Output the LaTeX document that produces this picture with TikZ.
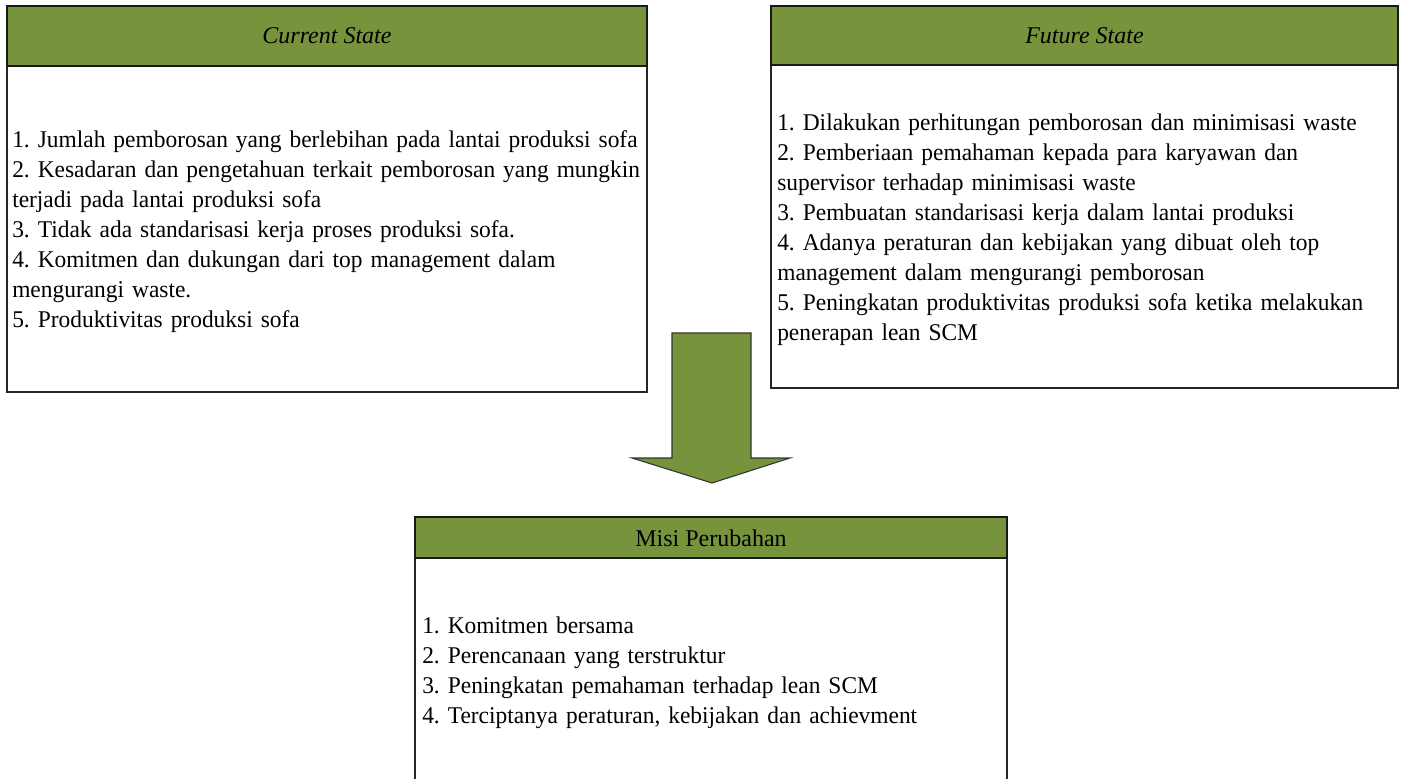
\documentclass[tikz,border=0pt]{standalone}
\usepackage{fontspec}
\setmainfont{Liberation Serif}
\newfontfamily\bodyfont{Liberation Serif}[FakeStretch=0.976]
\usetikzlibrary{fit}
\definecolor{hdrgreen}{HTML}{77933C}
\tikzset{
  bodybox/.style={draw=black!85, line width=1pt, fill=white, inner sep=0pt},
  hdrbox/.style={draw=black!90, line width=1.5pt, fill=hdrgreen, inner sep=0pt},
  hdrtext/.style={font=\fontsize{18}{22.6}\selectfont, inner sep=0pt, anchor=base},
  bodytext/.style={font=\bodyfont\fontsize{18}{22.6}\selectfont\frenchspacing, inner sep=0pt, anchor=base west, align=left, text width=30cm},
  bigarrow/.style={draw=black!80, line width=0.8pt, fill=hdrgreen, line join=miter},
}
\begin{document}
\begin{tikzpicture}[x=0.75pt,y=-0.75pt]
\clip (0,0) rectangle (1401,778);
\fill[white] (0,0) rectangle (1401,778);
% Current State
\node[bodybox, fit={(7,6)(647,392)}] (csbody) {};
\node[hdrbox, fit={(7,6)(647,66)}] (cshead) {};
\node[hdrtext] (cstitle) at (327,43) {\itshape Current State};
\node[bodytext] (cstext) at (12,147) {1. Jumlah pemborosan yang berlebihan pada lantai produksi sofa\\
2. Kesadaran dan pengetahuan terkait pemborosan yang mungkin\\
terjadi pada lantai produksi sofa\\
3. Tidak ada standarisasi kerja proses produksi sofa.\\
4. Komitmen dan dukungan dari top management dalam\\
mengurangi waste.\\
5. Produktivitas produksi sofa};
% Future State
\node[bodybox, fit={(771,6)(1398,388)}] (fsbody) {};
\node[hdrbox, fit={(771,6)(1398,65)}] (fshead) {};
\node[hdrtext] (fstitle) at (1084.5,43) {\itshape Future State};
\node[bodytext] (fstext) at (777,130) {1. Dilakukan perhitungan pemborosan dan minimisasi waste\\
2. Pemberiaan pemahaman kepada para karyawan dan\\
supervisor terhadap minimisasi waste\\
3. Pembuatan standarisasi kerja dalam lantai produksi\\
4. Adanya peraturan dan kebijakan yang dibuat oleh top\\
management dalam mengurangi pemborosan\\
5. Peningkatan produktivitas produksi sofa ketika melakukan\\
penerapan lean SCM};
% Arrow
\draw[bigarrow] (672,333) -- (751,333) -- (751,458) -- (790,458) -- (712,483) -- (632,458) -- (672,458) -- cycle;
% Misi Perubahan
\node[bodybox, fit={(415,517)(1007,800)}] (mpbody) {};
\node[hdrbox, fit={(415,517)(1007,558)}] (mphead) {};
\node[hdrtext] (mptitle) at (711,546) {Misi Perubahan};
\node[bodytext] (mptext) at (422,633) {1. Komitmen bersama\\
2. Perencanaan yang terstruktur\\
3. Peningkatan pemahaman terhadap lean SCM\\
4. Terciptanya peraturan, kebijakan dan achievment};
\end{tikzpicture}
\end{document}
